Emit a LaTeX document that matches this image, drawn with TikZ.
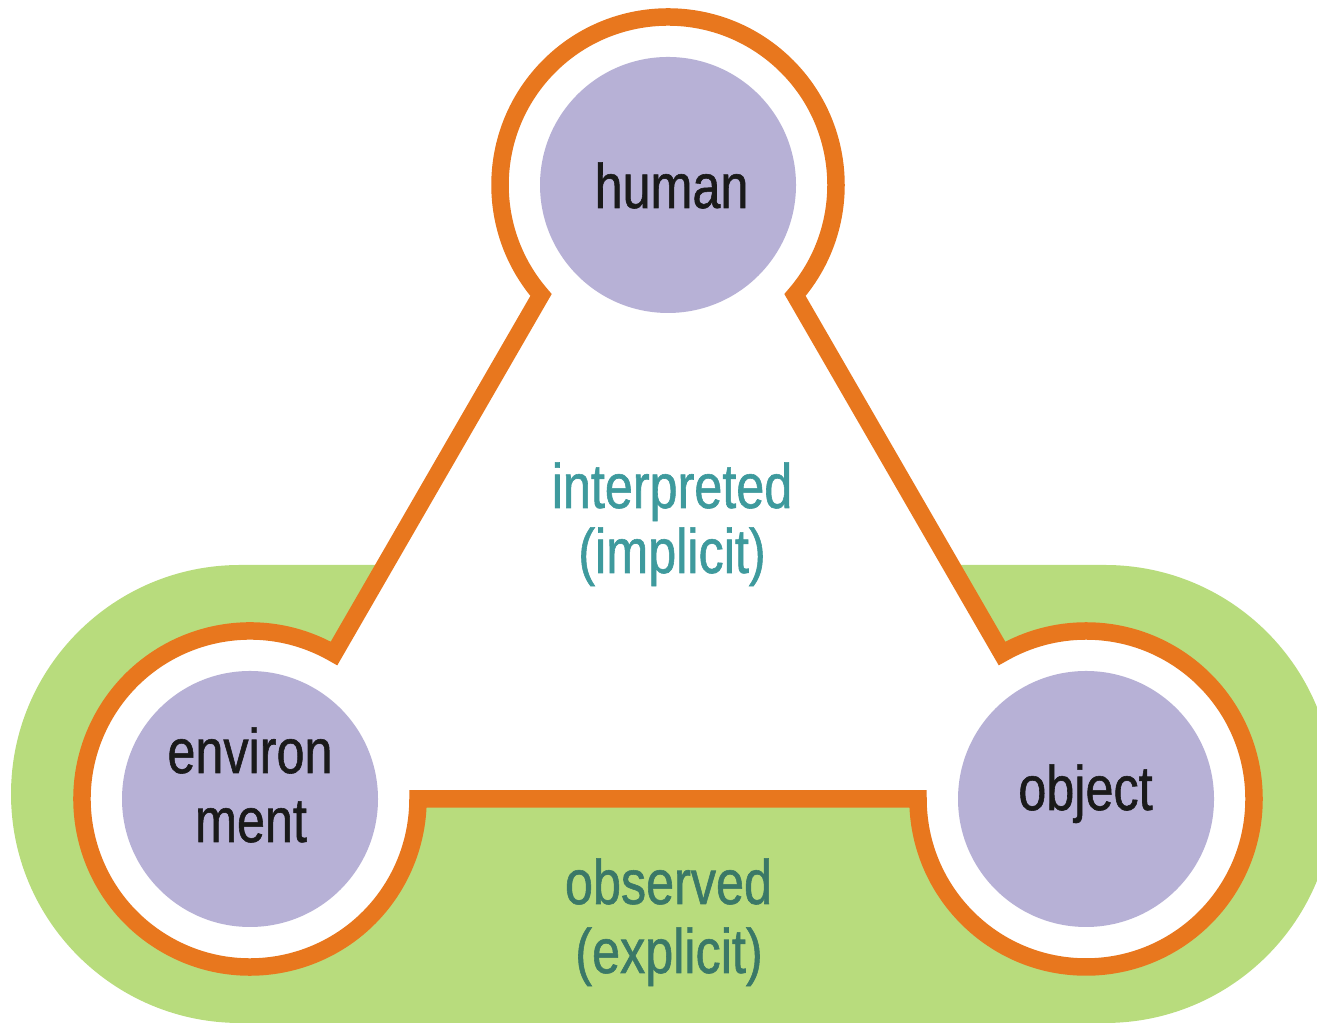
\documentclass[tikz,border=0pt]{standalone}
\usepackage{fontspec}
\usetikzlibrary{calc}
\newfontfamily\lblfont[FakeStretch=0.8,FakeBold=0.9]{Liberation Sans}
\definecolor{grn}{HTML}{B8DC7D}
\definecolor{org}{HTML}{E8771E}
\definecolor{pur}{HTML}{B7B1D6}
\definecolor{tealA}{HTML}{3E9A9D}
\definecolor{tealB}{HTML}{3A7867}
\definecolor{ink}{HTML}{1A1A1A}
\begin{document}
\begin{tikzpicture}[
  disc/.style={circle, fill=pur, minimum size=2.56cm, inner sep=0pt},
  lbl/.style={font=\lblfont\fontsize{17.9}{20}\selectfont, text=ink, inner sep=0pt, anchor=base},
  zonelbl/.style={lbl, text=#1}
]
\useasboundingbox (0,0) rectangle (13.17,10.26);
\clip (0,0) rectangle (13.17,10.26);
% green observed zone
\fill[grn] (2.40,4.61) -- (11.05,4.61) arc[start angle=90,end angle=-90,radius=2.29]
  -- (2.40,0.03) arc[start angle=270,end angle=90,radius=2.29] -- cycle;
\coordinate (H) at (6.68,8.41);
\coordinate (E) at (2.50,2.27);
\coordinate (O) at (10.86,2.27);
% orange outline
\filldraw[fill=white, draw=org, line width=0.175cm, line join=miter]
  ($(H)+(-40.9:1.68)$) arc[start angle=-40.9, end angle=220.9, radius=1.68]
  -- ($(E)+(60:1.68)$) arc[start angle=60, end angle=360, radius=1.68]
  -- ($(O)+(180:1.68)$) arc[start angle=180, end angle=480, radius=1.68]
  -- cycle;
% discs
\node[disc] (human) at (H) {};
\node[disc] (environment) at (E) {};
\node[disc] (object) at (O) {};
% labels
\node[lbl] (humant) at (6.715,8.18) {human};
\node[lbl] (env1) at (2.50,2.53) {environ};
\node[lbl] (env2) at (2.51,1.84) {ment};
\node[lbl] (objt) at (10.855,2.16) {object};
\node[zonelbl=tealA] (int1) at (6.72,5.18) {interpreted};
\node[zonelbl=tealA] (int2) at (6.72,4.53) {(implicit)};
\node[zonelbl=tealB] (obs1) at (6.685,1.22) {observed};
\node[zonelbl=tealB] (obs2) at (6.69,0.53) {(explicit)};
\end{tikzpicture}
\end{document}
